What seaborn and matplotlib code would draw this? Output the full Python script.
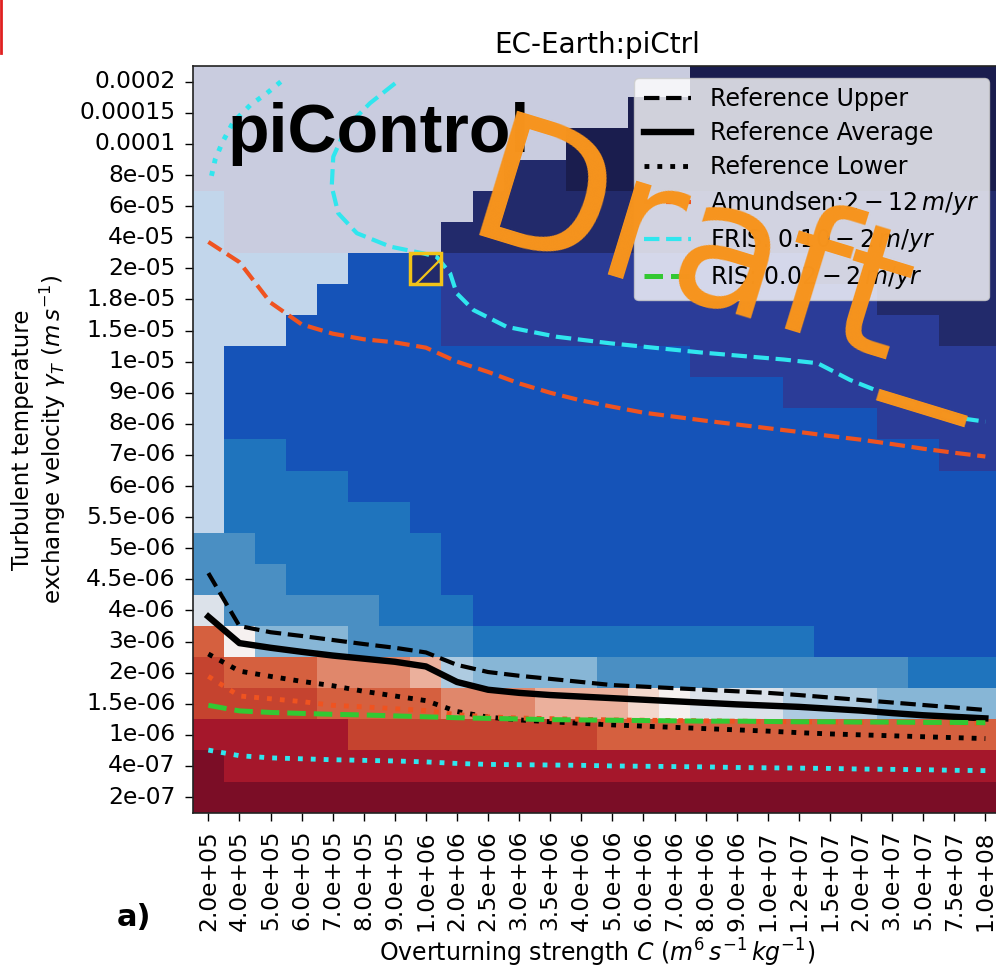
import numpy as np
import pandas as pd
import matplotlib
matplotlib.use("Agg")
import matplotlib.pyplot as plt
import seaborn as sns
from matplotlib.colors import ListedColormap
from matplotlib.patches import Rectangle
from matplotlib.lines import Line2D

# ---------------- data ----------------
x_labels = ["2.0e+05", "4.0e+05", "5.0e+05", "6.0e+05", "7.0e+05", "8.0e+05", "9.0e+05",
            "1.0e+06", "2.0e+06", "2.5e+06", "3.0e+06", "3.5e+06", "4.0e+06", "5.0e+06",
            "6.0e+06", "7.0e+06", "8.0e+06", "9.0e+06", "1.0e+07", "1.2e+07", "1.5e+07",
            "2.0e+07", "3.0e+07", "5.0e+07", "7.5e+07", "1.0e+08"]
y_labels = ["0.0002", "0.00015", "0.0001", "8e-05", "6e-05", "4e-05", "2e-05", "1.8e-05",
            "1.5e-05", "1e-05", "9e-06", "8e-06", "7e-06", "6e-06", "5.5e-06", "5e-06",
            "4.5e-06", "4e-06", "3e-06", "2e-06", "1.5e-06", "1e-06", "4e-07", "2e-07"]

# colour classes of the heatmap cells (a = darkest red ... q = darkest navy, r/s pale)
level_codes = "abcdefghijklmnopqrs"
level_colors = ["#7b0d26", "#a5172b", "#c5432f", "#d5603f", "#e0876b", "#ebb09c",
                "#f3d8cd", "#f6f1f0", "#dce2ea", "#aecbe1", "#87b6d6", "#4a8fc3",
                "#1f74bd", "#1553b8", "#2b3c98", "#222a6b", "#1a1d4e", "#c2d6eb",
                "#c9ccdf"]

# run-length description of each heatmap row (top row first)
cell_rows = [
    [("s", 16), ("q", 10)],
    [("s", 14), ("q", 12)],
    [("s", 12), ("q", 14)],
    [("s", 10), ("p", 2), ("q", 14)],
    [("r", 1), ("s", 8), ("p", 17)],
    [("r", 1), ("s", 7), ("p", 18)],
    [("r", 5), ("n", 2), ("p", 1), ("o", 12), ("p", 6)],
    [("r", 4), ("n", 4), ("o", 14), ("p", 4)],
    [("r", 3), ("n", 5), ("o", 16), ("p", 2)],
    [("r", 1), ("n", 15), ("o", 10)],
    [("r", 1), ("n", 18), ("o", 7)],
    [("r", 1), ("n", 21), ("o", 4)],
    [("r", 1), ("m", 2), ("n", 21), ("o", 2)],
    [("r", 1), ("m", 4), ("n", 21)],
    [("r", 1), ("m", 6), ("n", 19)],
    [("l", 2), ("m", 6), ("n", 18)],
    [("l", 3), ("m", 5), ("n", 18)],
    [("i", 1), ("l", 5), ("m", 3), ("n", 17)],
    [("d", 1), ("h", 1), ("k", 3), ("l", 4), ("m", 11), ("n", 6)],
    [("c", 1), ("d", 3), ("e", 3), ("f", 1), ("j", 1), ("k", 4), ("l", 10), ("m", 3)],
    [("c", 4), ("d", 4), ("e", 3), ("f", 3), ("g", 1), ("h", 1), ("i", 3), ("j", 3), ("k", 4)],
    [("b", 5), ("c", 8), ("d", 13)],
    [("a", 1), ("b", 25)],
    [("a", 26)],
]

# contour lines, in row units (0 = top edge of the grid), one value per column
ref_upper = [16.3, 18.0, 18.2, 18.32, 18.45, 18.58, 18.7, 18.85, 19.25, 19.48, 19.6, 19.7, 19.8,
             19.9, 19.95, 20.0, 20.05, 20.1, 20.15, 20.22, 20.3, 20.38, 20.46, 20.54, 20.62, 20.7]
ref_avg = [17.7, 18.55, 18.7, 18.83, 18.95, 19.05, 19.15, 19.3, 19.8, 20.05, 20.15, 20.22, 20.27,
           20.32, 20.37, 20.42, 20.47, 20.52, 20.56, 20.6, 20.66, 20.72, 20.8, 20.87, 20.92, 20.97]
ref_lower = [18.9, 19.45, 19.62, 19.78, 19.92, 20.1, 20.25, 20.4, 20.75, 20.93, 21.02, 21.08, 21.13,
             21.18, 21.22, 21.26, 21.3, 21.34, 21.38, 21.43, 21.47, 21.5, 21.53, 21.56, 21.59, 21.62]
amundsen_upper = [5.65, 6.3, 7.6, 8.3, 8.6, 8.78, 8.88, 9.05, 9.5, 9.83, 10.2, 10.5, 10.75,
                  10.95, 11.14, 11.27, 11.4, 11.52, 11.64, 11.76, 11.89, 12.01, 12.15, 12.3, 12.43, 12.55]
amundsen_lower = [19.62, 20.25, 20.34, 20.43, 20.55, 20.6, 20.66, 20.72, 20.85, 20.92, 20.96, 20.98,
                  21.0, 21.02, 21.03, 21.04, 21.05, 21.06, 21.07, 21.08, 21.09, 21.1, 21.1, 21.11,
                  21.12, 21.13]
fris_upper_x = [6.51, 5.70, 4.95, 4.52, 4.47, 4.68, 5.28, 6.35, 7.42, 7.85, 8.28, 8.49, 9.03, 10.1,
                11.71, 13.43, 16.3, 19.0, 20.1, 21.15, 22.76, 24.37, 25.5]
fris_upper_y = [0.55, 1.19, 1.95, 2.91, 3.87, 4.73, 5.37, 5.80, 6.02, 6.13, 6.66, 7.30, 7.84, 8.38,
                8.70, 8.91, 9.2, 9.43, 9.55, 10.09, 10.73, 11.27, 11.43]
fris_top_x = [2.83, 2.38, 1.85, 1.3, 0.95, 0.72, 0.55]
fris_top_y = [0.5, 0.87, 1.25, 1.8, 2.45, 3.0, 3.75]
fris_lower = [21.99, 22.17, 22.24, 22.27, 22.3, 22.32, 22.34, 22.37, 22.42, 22.45, 22.46, 22.47,
              22.48, 22.5, 22.51, 22.52, 22.53, 22.55, 22.56, 22.57, 22.58, 22.6, 22.61, 22.62,
              22.64, 22.65]
ris_upper = [20.55, 20.73, 20.78, 20.81, 20.84, 20.86, 20.89, 20.92, 20.95, 20.97, 20.99, 21.01,
             21.02, 21.03, 21.04, 21.05, 21.06, 21.06, 21.07, 21.08, 21.08, 21.09, 21.09, 21.1,
             21.1, 21.11]
highlight_cell = ("1.0e+06", "2e-05")

# ---------------- build grid ----------------
grid = []
for row in cell_rows:
    vals = []
    for code, n in row:
        vals += [level_codes.index(code)] * n
    assert len(vals) == len(x_labels), (row, len(vals))
    grid.append(vals)
df = pd.DataFrame(np.array(grid), index=y_labels, columns=x_labels)
cmap = ListedColormap(level_colors)

plt.rcParams["hatch.linewidth"] = 1.6

W, H = 996, 967
fig = plt.figure(figsize=(W / 100, H / 100), dpi=100)
ax = fig.add_axes([192.8 / W, 1 - 812.6 / H, (1000.9 - 192.8) / W, (812.6 - 66.2) / H])

sns.heatmap(df, ax=ax, cmap=cmap, vmin=-0.5, vmax=len(level_colors) - 0.5, cbar=False,
            xticklabels=x_labels, yticklabels=y_labels, linewidths=0)

for s in ax.spines.values():
    s.set_visible(True)
    s.set_linewidth(1.2)
    s.set_color("#222222")
ax.tick_params(axis="both", length=6, width=1, labelsize=16.8, direction="out", pad=6.5)
ax.set_xticklabels(x_labels, rotation=90)
ax.set_yticklabels(y_labels, rotation=0)

cols = np.arange(len(x_labels)) + 0.5
orange = "#ef5320"
cyan = "#30e6ee"
green = "#33c832"
ax.plot(cols, ref_upper, color="k", ls="--", lw=3.0, label="Reference Upper")
ax.plot(cols, ref_avg, color="k", ls="-", lw=4.6, label="Reference Average")
ax.plot(cols, ref_lower, color="k", ls=":", lw=3.5, label="Reference Lower")
ax.plot(cols, amundsen_upper, color=orange, ls="--", lw=3.0, label=r"Amundsen:$2-12\,m/yr$")
ax.plot(cols, amundsen_lower, color=orange, ls=":", lw=3.5)
ax.plot(fris_upper_x, fris_upper_y, color=cyan, ls="--", lw=3.0, label=r"FRIS: $0.10-2\,m/yr$")
ax.plot(fris_top_x, fris_top_y, color=cyan, ls=":", lw=3.5)
ax.plot(cols, fris_lower, color=cyan, ls=":", lw=3.5)
ax.plot(cols, ris_upper, color=green, ls="--", lw=3.6, label=r"RIS: $0.02-2\,m/yr$")

hx = x_labels.index(highlight_cell[0])
hy = y_labels.index(highlight_cell[1])
ax.add_patch(Rectangle((hx, hy), 1, 1, fill=False, edgecolor="#f2c318", hatch="/", lw=2.5, zorder=5))

ax.set_xlim(0, len(x_labels))
ax.set_ylim(len(y_labels), 0)

ax.legend(loc="upper right", fontsize=17, framealpha=0.8, labelspacing=0.42)

ax.set_title("EC-Earth:piCtrl", fontsize=20, pad=9.3)
ax.set_xlabel(r"Overturning strength $C$ $(m^6\,s^{-1}\,kg^{-1})$", fontsize=17, labelpad=4)
ax.set_ylabel("Turbulent temperature\nexchange velocity $\\gamma_T$ $(m\\,s^{-1})$",
              fontsize=16.6, labelpad=8)

fig.text(228 / W, 1 - 152 / H, "piControl", fontsize=49, fontweight="bold",
         family=["Liberation Sans", "DejaVu Sans"], va="baseline", ha="left")
fig.text(117 / W, 1 - 926 / H, "a)", fontsize=22, fontweight="bold", va="baseline", ha="left")
fig.text(731 / W, 1 - 268 / H, "Draft_", fontsize=128, color="#f7941d", rotation=-17,
         rotation_mode="anchor", ha="center", va="center")
fig.add_artist(Line2D([0.0015, 0.0015], [1, 1 - 53 / H], color="#e02020", lw=2,
                      transform=fig.transFigure))

fig.savefig("out.png", dpi=100)
